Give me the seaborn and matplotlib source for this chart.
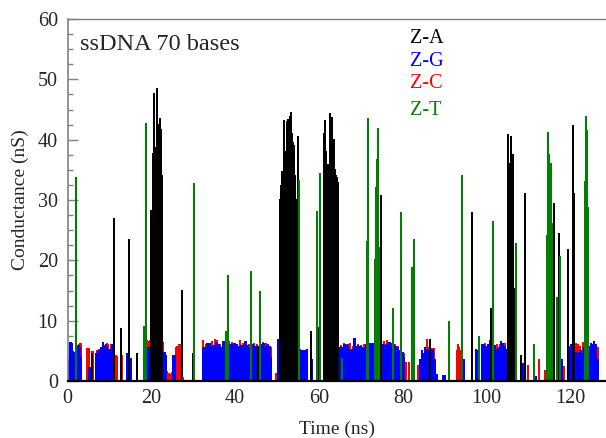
import numpy as np
import pandas as pd
import seaborn as sns
import matplotlib
matplotlib.use("Agg")
import matplotlib.pyplot as plt
from matplotlib.ticker import MultipleLocator

# ---- data: time (ns) -> conductance (nS) ----
# Z-A (black) spikes and bursts
za_t = [5.8, 11.2, 12.8, 14.7, 16.7,
        19.95, 20.1, 20.3, 20.45, 20.7, 20.85, 21.0, 21.15, 21.3, 21.45, 21.6, 21.7, 21.85,
        22.05, 22.2, 22.35, 22.5, 22.6,
        27.25, 29.9, 45.5,
        50.7, 50.9, 51.0, 51.1, 51.25, 51.4, 51.55, 51.7, 51.85, 52.0, 52.2, 52.4, 52.55,
        52.7, 52.9, 53.1, 53.2, 53.35, 53.5, 53.7, 53.85, 54.0, 54.15, 54.3, 54.5, 54.9,
        58.2, 59.7,
        61.1, 61.3, 61.4, 61.5, 61.65, 61.8, 61.95, 62.1, 62.25, 62.4, 62.55, 62.7, 62.85,
        63.05, 63.2, 63.35, 63.5, 63.7, 63.8, 64.0, 64.2, 64.4, 64.6,
        74.7, 77.7, 86.5, 96.5, 101.0,
        105.1, 105.2, 105.3, 105.4, 105.6, 105.75, 105.85, 106.0, 106.2, 106.3,
        106.9, 108.1, 109.1, 116.0, 117.3, 119.45, 120.6, 120.8]
za_g = [4.4, 26.8, 8.6, 23.3, 4.5,
        28.2, 24.0, 37.6, 30.0, 47.5, 35.0, 38.7, 31.1, 38.0, 48.4, 30.0, 42.4, 36.0,
        43.4, 41.6, 34.0, 33.9, 25.0,
        15.0, 4.5, 5.7,
        30.0, 32.3, 28.0, 34.7, 31.0, 33.9, 32.0, 43.1, 33.0, 35.0, 38.0, 43.0, 36.0,
        43.3, 40.0, 43.8, 42.0, 44.4, 41.0, 39.5, 37.0, 39.0, 36.0, 34.0, 30.0, 40.4,
        8.2, 8.8,
        33.0, 41.0, 36.0, 43.1, 38.0, 37.2, 35.0, 35.8, 34.0, 34.1, 38.0, 44.2, 41.0,
        43.6, 40.0, 37.2, 39.0, 40.0, 35.0, 34.0, 33.7, 33.5, 32.9,
        30.6, 7.9, 6.8, 27.9, 11.9,
        30.0, 40.8, 33.0, 36.0, 34.0, 30.0, 40.4, 33.0, 37.5, 23.0,
        15.2, 4.2, 31.0, 29.3, 24.3, 21.7, 42.2, 31.0]

# Z-T (green) spikes
zt_t = [1.95, 18.3, 18.65, 18.8, 27.6, 30.2, 37.8, 38.3, 43.8, 45.9, 55.3, 59.5, 60.34,
        65.6, 71.4, 71.6, 73.3, 73.5, 73.7, 73.9, 74.05, 74.2, 74.35, 77.6, 79.5,
        82.2, 82.8, 91.1, 94.1, 94.2, 98.1, 101.5, 107.1, 111.2,
        114.4, 114.6, 114.7, 114.8, 114.95, 115.1, 115.25, 115.4, 115.55, 115.7,
        116.7, 117.6, 123.6, 123.7, 123.85, 123.99, 124.2]
zt_g = [33.7, 8.9, 42.6, 37.5, 0.5, 32.6, 8.1, 17.4, 18.0, 14.7, 33.1, 28.0, 34.3,
        3.7, 23.0, 43.4, 20.0, 32.0, 28.0, 36.6, 30.0, 41.8, 22.0, 12.0, 27.8,
        18.7, 23.4, 9.8, 27.0, 34.0, 7.3, 26.3, 22.7, 6.0,
        24.0, 41.1, 30.0, 37.4, 28.0, 32.0, 27.0, 36.0, 26.0, 22.0,
        13.7, 20.6, 33.0, 43.7, 35.0, 41.5, 28.6]

# Z-G (blue) low-level bands: (start ns, end ns, heights read across the band)
zg_bands = [
    (0.3, 3.3, [3.5, 6.3, 6.3, 6.1, 4.8, 4.6, 4.5, 4.7, 0.0, 5.7, 5.8, 5.5, 3.8]),
    (5.1, 5.7, [2.2, 2.0, 2.2]),
    (6.8, 10.9, [4.4, 4.3, 4.9, 4.8, 5.4, 5.2, 6.3, 5.6, 5.0, 5.9, 5.4, 5.1, 4.9, 5.2, 5.9, 5.4]),
    (14.1, 14.5, [4.5, 4.4]),
    (15.2, 15.2, [3.7]),
    (16.7, 16.7, [1.0]),
    (19.1, 19.8, [5.4, 5.3, 5.4]),
    (22.7, 23.5, [4.6, 4.5, 4.6, 4.2]),
    (25.1, 25.6, [4.2, 4.1]),
    (32.4, 48.6, [5.4, 5.5, 5.3, 6.2, 6.1, 6.2, 5.7, 5.6, 5.8, 6.3, 6.2, 5.9, 5.6, 5.5, 6.5,
                  6.4, 6.0, 5.4, 5.5, 5.8, 5.9, 6.0, 6.2, 6.1, 5.9, 5.5, 5.7, 5.8, 5.6, 5.8,
                  6.4, 6.5, 5.8, 5.3, 5.2, 6.0, 5.9, 5.6, 5.7, 5.4, 5.5, 6.0, 5.9, 6.2, 6.1,
                  5.7, 5.8, 5.9, 5.6, 3.8]),
    (50.3, 50.9, [6.8, 6.7, 6.8]),
    (54.5, 57.2, [5.1, 5.0, 4.9, 5.1, 5.0, 4.8, 5.0, 4.9, 5.1]),
    (58.4, 58.4, [3.4]),
    (64.6, 80.3, [5.4, 5.5, 5.3, 5.4, 5.9, 6.0, 5.8, 5.9, 5.2, 5.0, 5.1, 7.0, 6.9, 5.7, 5.8,
                  5.6, 5.7, 5.4, 5.3, 5.4, 5.9, 6.0, 5.8, 6.2, 6.1, 6.2, 5.9, 5.9, 5.8, 5.2,
                  5.1, 5.0, 5.9, 5.8, 5.9, 6.0, 6.3, 6.3, 6.2, 5.7, 5.8, 5.7, 5.3, 5.4, 4.9,
                  4.8, 4.6, 3.8]),
    (84.1, 87.7, [3.4, 4.9, 4.5, 5.4, 5.2, 4.9, 5.9, 5.1, 4.9, 3.4]),
    (88.2, 88.2, [1.0]),
    (89.7, 90.1, [0.8, 0.8]),
    (94.5, 94.5, [3.4]),
    (97.5, 98.0, [5.1, 5.0]),
    (99.0, 105.2, [5.9, 6.0, 5.7, 5.9, 6.6, 5.4, 4.9, 5.8, 5.1, 5.5, 6.4, 6.2, 5.7, 5.1, 5.9]),
    (106.6, 106.9, [5.9, 5.8]),
    (108.4, 109.0, [2.8, 2.8, 2.7]),
    (111.9, 111.9, [0.7]),
    (118.1, 118.1, [3.4]),
    (119.8, 126.5, [5.4, 5.9, 5.8, 4.9, 4.7, 4.5, 4.7, 4.9, 4.5, 5.4, 5.9, 6.1, 5.6, 6.2,
                    5.9, 6.4, 6.0, 3.4]),
]

# Z-C (red) bands
zc_bands = [
    (0.3, 0.3, [3.5]),
    (2.3, 3.3, [5.8, 5.9, 6.1, 6.2]),
    (4.7, 5.2, [5.3, 5.3]),
    (5.8, 6.0, [4.8, 4.8]),
    (7.1, 10.9, [5.0, 5.1, 5.2, 5.0, 5.4, 5.5, 5.8, 6.2, 6.0, 5.2, 6.0, 5.5, 5.0]),
    (11.6, 11.9, [4.2, 4.0]),
    (12.9, 12.9, [4.2]),
    (19.05, 19.7, [6.6, 6.5, 6.6]),
    (22.5, 22.8, [6.4, 6.3]),
    (23.5, 24.9, [1.0, 1.5, 1.2, 1.0, 1.4]),
    (25.9, 26.8, [5.4, 5.6, 5.9, 6.0]),
    (32.4, 48.6, [6.6, 6.0, 6.2, 6.5, 6.8, 6.7, 6.0, 5.8, 6.2, 6.4, 6.3, 5.9, 6.0, 6.6, 6.1,
                  5.8, 6.0, 5.9, 6.2, 6.0, 6.5, 6.3, 6.1, 6.0, 5.5]),
    (49.8, 50.3, [1.2, 1.1]),
    (64.6, 80.3, [6.0, 5.8, 6.2, 5.9, 6.1, 5.7, 6.3, 6.0, 5.8, 6.0, 6.1, 5.9, 6.2, 5.8, 5.9,
                  6.0, 6.4, 6.6, 6.2, 6.4, 6.0, 5.6, 5.4, 4.5]),
    (80.4, 80.8, [3.2, 3.0]),
    (81.6, 81.6, [3.0]),
    (83.7, 83.7, [2.5]),
    (84.8, 87.5, [4.0, 5.0, 6.8, 5.5, 5.0, 5.3, 5.3]),
    (92.9, 94.1, [4.9, 5.9, 5.5, 5.0, 3.6]),
    (99.0, 105.2, [5.5, 6.2, 6.0, 6.3, 5.8, 5.9, 6.0, 6.2, 6.2, 5.6]),
    (109.8, 109.8, [2.5]),
    (112.4, 112.4, [3.4]),
    (114.0, 114.0, [1.6]),
    (118.5, 118.5, [2.3]),
    (119.8, 126.5, [5.6, 6.0, 6.6, 6.2, 5.9, 5.6, 6.3, 5.2, 5.0, 5.5, 5.9, 6.0, 5.8, 5.5]),
]

pairs = ["Z-A", "Z-G", "Z-C", "Z-T"]
colors = {"Z-A": "black", "Z-G": "#0000ff", "Z-C": "#ff0000", "Z-T": "#008000"}
draw_order = ["Z-C", "Z-G", "Z-A", "Z-T"]


def bands_to_points(bands):
    t, g = [], []
    for start, end, heights in bands:
        t.extend(np.linspace(start, end, len(heights)))
        g.extend(heights)
    return t, g


def spikes(name, t, g):
    # every reading drawn as a drop from the baseline, as in the raw trace
    rows = []
    for ti, gi in zip(t, g):
        rows += [(name, ti, 0.0), (name, ti, gi), (name, ti, 0.0)]
    return rows


zg_t, zg_g = bands_to_points(zg_bands)
zc_t, zc_g = bands_to_points(zc_bands)

rows = []
rows += spikes("Z-C", zc_t, zc_g)
rows += spikes("Z-G", zg_t, zg_g)
rows += spikes("Z-A", za_t, za_g)
rows += spikes("Z-T", zt_t, zt_g)
df = pd.DataFrame(rows, columns=["pair", "time", "G"])

sns.set_style("ticks")
plt.rcParams["font.family"] = ["Liberation Serif", "DejaVu Serif"]

fig = plt.figure(figsize=(6.06, 4.38), dpi=100)
ax = fig.add_axes([67.5 / 606, 57 / 438, 1 - 67.5 / 606, 362 / 438])

sns.lineplot(data=df, x="time", y="G", hue="pair", hue_order=draw_order,
             palette=colors, estimator=None, sort=False, legend=False,
             linewidth=1.3, ax=ax)

ax.set_xlim(0, 128.5)
ax.set_ylim(0, 60)
ax.yaxis.set_major_locator(MultipleLocator(10))
ax.yaxis.set_minor_locator(MultipleLocator(2.5))
ax.xaxis.set_major_locator(MultipleLocator(20))
ax.tick_params(axis="y", which="major", direction="in", length=7, width=1,
               color="#808080", labelsize=14.5, pad=7)
ax.tick_params(axis="y", which="minor", direction="in", length=3.5, width=1,
               color="#808080")
ax.tick_params(axis="x", which="major", length=0, labelsize=14.5, pad=6)

ax.spines["right"].set_visible(False)
ax.spines["left"].set_color("#808080")
ax.spines["left"].set_linewidth(1.2)
ax.spines["top"].set_color("#808080")
ax.spines["top"].set_linewidth(1.0)
ax.spines["bottom"].set_color("black")
ax.spines["bottom"].set_linewidth(1.6)

ax.set_xlabel("Time (ns)", fontsize=14)
ax.set_ylabel("Conductance (nS)", fontsize=14)
ax.xaxis.set_label_coords(0.5, -0.11)
ax.yaxis.set_label_coords(-0.072, 0.5)

fig.text(80 / 606, 1 - 50 / 438, "ssDNA 70 bases", fontsize=17.5, va="baseline")
legend_y = [43, 66.5, 88.5, 115]
for name, yy in zip(pairs, legend_y):
    fig.text(410 / 606, 1 - yy / 438, name, fontsize=14.5, color=colors[name],
             va="baseline")

fig.savefig("out.png", dpi=100)
